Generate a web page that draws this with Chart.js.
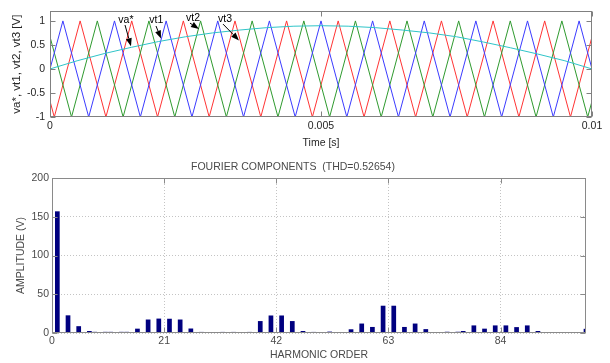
<!DOCTYPE html>
<html>
<head>
<meta charset="utf-8">
<script src="https://cdn.jsdelivr.net/npm/chart.js@4.4.0/dist/chart.umd.min.js"></script>
<style>
  html, body { margin: 0; padding: 0; background: #fff; }
  #wrap { position: relative; width: 610px; height: 363px; overflow: hidden; }
  canvas { position: absolute; left: 0; }
  #carriers { top: 0; }
  #spectrum { top: 150px; }
</style>
</head>
<body>
<div id="wrap">
  <canvas id="carriers" width="610" height="150"></canvas>
  <canvas id="spectrum" width="610" height="213"></canvas>
</div>
<script>
// ---- carrier comparison, one half-cycle of the 50 Hz reference (seconds / volts p.u.) ----
const vt1Time = [0, 0.000238, 0.000714, 0.001190, 0.001667, 0.002143, 0.002619, 0.003095, 0.003571, 0.004048, 0.004524,
                 0.005000, 0.005476, 0.005952, 0.006429, 0.006905, 0.007381, 0.007857, 0.008333, 0.008810, 0.009286, 0.009762, 0.010000];
const vt1Value = [0, 1, -1, 1, -1, 1, -1, 1, -1, 1, -1, 1, -1, 1, -1, 1, -1, 1, -1, 1, -1, 1, 0];

const vt2Time = [0, 0.000397, 0.000873, 0.001349, 0.001825, 0.002302, 0.002778, 0.003254, 0.003730, 0.004206, 0.004683,
                 0.005159, 0.005635, 0.006111, 0.006587, 0.007063, 0.007540, 0.008016, 0.008492, 0.008968, 0.009444, 0.009921, 0.010000];
const vt2Value = [0.67, -1, 1, -1, 1, -1, 1, -1, 1, -1, 1, -1, 1, -1, 1, -1, 1, -1, 1, -1, 1, -1, -0.67];

const vt3Time = [0, 0.000079, 0.000556, 0.001032, 0.001508, 0.001984, 0.002460, 0.002937, 0.003413, 0.003889, 0.004365,
                 0.004841, 0.005317, 0.005794, 0.006270, 0.006746, 0.007222, 0.007698, 0.008175, 0.008651, 0.009127, 0.009603, 0.010000];
const vt3Value = [-0.67, -1, 1, -1, 1, -1, 1, -1, 1, -1, 1, -1, 1, -1, 1, -1, 1, -1, 1, -1, 1, -1, 0.67];

const refTime = [0, 0.0005, 0.001, 0.0015, 0.002, 0.0025, 0.003, 0.0035, 0.004, 0.0045, 0.005,
                 0.0055, 0.006, 0.0065, 0.007, 0.0075, 0.008, 0.0085, 0.009, 0.0095, 0.01];
const refValue = [0, 0.17, 0.32, 0.45, 0.57, 0.67, 0.75, 0.81, 0.86, 0.89, 0.9,
                  0.89, 0.86, 0.81, 0.75, 0.67, 0.56, 0.44, 0.31, 0.17, 0];

const timeTicks = [0, 0.005, 0.01];
const timeTickLabels = ['0', '0.005', '0.01'];
const voltTicks = [-1, -0.5, 0, 0.5, 1];
const voltTickLabels = ['-1', '-0.5', '0', '0.5', '1'];

// ---- Fourier components of the output voltage ----
const harmonicOrder = [1, 3, 5, 7, 8, 10, 11, 13, 14, 16, 18, 20, 22, 24, 26, 28, 32, 34, 37, 39, 41, 43, 45, 47, 49,
                       52, 56, 58, 60, 62, 64, 66, 68, 70, 74, 76, 77, 79, 81, 83, 85, 87, 89, 91, 92, 94, 96, 98, 100];
const amplitude = [157, 22.8, 8.8, 2.6, 1.5, 1.5, 1.5, 1.5, 1.5, 5.6, 17.4, 18.6, 18.4, 17.4, 5.8, 1.4, 1.4, 1.4, 1.4, 15.4, 22.6, 22.6, 15.4, 2.6, 1.4,
                   1.8, 4.8, 12.2, 7.8, 35.2, 35.2, 7.8, 12.2, 5, 1.6, 1.6, 2.6, 9.8, 5.6, 9.8, 9.8, 7.6, 9.8, 2.6, 1.2, 1.2, 1.2, 1.2, 5.4];
const orderTicks = [0, 21, 42, 63, 84];
const orderTickLabels = ['0', '21', '42', '63', '84'];
const ampTicks = [0, 50, 100, 150, 200];
const ampTickLabels = ['0', '50', '100', '150', '200'];

const spectrumTitle = 'FOURIER COMPONENTS  (THD=0.52654)';

// ---- pointer labels on the carrier plot: text spot, arrow tail and arrow tip in data units ----
const pointers = [
  { text: 'va*', at: [0.00140, 1.02], tail: [0.001384, 0.914], tip: [0.001494, 0.474] },
  { text: 'vt1', at: [0.00196, 1.02], tail: [0.001956, 0.894], tip: [0.002048, 0.634] },
  { text: 'vt2', at: [0.00264, 1.05], tail: [0.002583, 0.954], tip: [0.002749, 0.834] },
  { text: 'vt3', at: [0.00323, 1.03], tail: [0.003192, 0.934], tip: [0.003487, 0.594] }
];

Chart.defaults.font.family = '"Liberation Sans", Arial, Helvetica, sans-serif';
Chart.defaults.font.size = 10.5;
Chart.defaults.animation = false;

const toPoints = (xs, ys) => xs.map((x, i) => ({ x: x, y: ys[i] }));

// axes box with inward tick marks on all four sides
const framePlugin = {
  id: 'frame',
  afterDatasetsDraw(chart, args, opts) {
    const { ctx, chartArea: a } = chart;
    const xs = chart.scales.x, ys = chart.scales.y;
    const L = Math.round(a.left) + 0.5, R = Math.round(a.right) - 0.5;
    const T = Math.round(a.top) + 0.5, B = Math.round(a.bottom) - 0.5;
    const len = opts.tickLength;
    ctx.save();
    ctx.strokeStyle = opts.color;
    ctx.lineWidth = 1;
    ctx.beginPath();
    xs.ticks.forEach(t => {
      const p = Math.round(xs.getPixelForValue(t.value)) + 0.5;
      ctx.moveTo(p, B); ctx.lineTo(p, B - len);
      ctx.moveTo(p, T); ctx.lineTo(p, T + len);
    });
    ys.ticks.forEach(t => {
      const p = Math.round(ys.getPixelForValue(t.value)) + 0.5;
      ctx.moveTo(L, p); ctx.lineTo(L + len, p);
      ctx.moveTo(R, p); ctx.lineTo(R - len, p);
    });
    ctx.stroke();
    ctx.strokeRect(L, T, R - L, B - T);
    ctx.restore();
  }
};

// text labels with arrows pointing at the curves
const pointerPlugin = {
  id: 'pointers',
  afterDatasetsDraw(chart, args, opts) {
    const { ctx } = chart;
    const xs = chart.scales.x, ys = chart.scales.y;
    ctx.save();
    ctx.fillStyle = '#000';
    ctx.strokeStyle = '#000';
    ctx.lineWidth = 1;
    ctx.font = '10.5px "Liberation Sans", Arial, sans-serif';
    ctx.textAlign = 'center';
    ctx.textBaseline = 'middle';
    opts.items.forEach(p => {
      ctx.fillText(p.text, xs.getPixelForValue(p.at[0]), ys.getPixelForValue(p.at[1]));
      const x0 = xs.getPixelForValue(p.tail[0]), y0 = ys.getPixelForValue(p.tail[1]);
      const x1 = xs.getPixelForValue(p.tip[0]), y1 = ys.getPixelForValue(p.tip[1]);
      const ang = Math.atan2(y1 - y0, x1 - x0);
      const hl = 8, hw = 3;
      ctx.beginPath();
      ctx.moveTo(x0, y0);
      ctx.lineTo(x1 - hl * Math.cos(ang), y1 - hl * Math.sin(ang));
      ctx.stroke();
      ctx.beginPath();
      ctx.moveTo(x1, y1);
      ctx.lineTo(x1 - hl * Math.cos(ang) + hw * Math.sin(ang), y1 - hl * Math.sin(ang) - hw * Math.cos(ang));
      ctx.lineTo(x1 - hl * Math.cos(ang) - hw * Math.sin(ang), y1 - hl * Math.sin(ang) + hw * Math.cos(ang));
      ctx.closePath();
      ctx.fill();
    });
    ctx.restore();
  }
};

function fixedTicks(values) {
  return scale => { scale.ticks = values.map(v => ({ value: v })); };
}

// ---------- carrier / reference plot ----------
const lineStyle = { borderWidth: 1, pointRadius: 0, tension: 0, fill: false };
new Chart(document.getElementById('carriers'), {
  type: 'line',
  data: {
    datasets: [
      Object.assign({ label: 'va*', data: toPoints(refTime, refValue), borderColor: '#2fc4c8' }, lineStyle),
      Object.assign({ label: 'vt1', data: toPoints(vt1Time, vt1Value), borderColor: '#3b3bff' }, lineStyle),
      Object.assign({ label: 'vt2', data: toPoints(vt2Time, vt2Value), borderColor: '#2f9a2f' }, lineStyle),
      Object.assign({ label: 'vt3', data: toPoints(vt3Time, vt3Value), borderColor: '#ff3434' }, lineStyle)
    ]
  },
  options: {
    responsive: false,
    devicePixelRatio: 1,
    layout: { padding: { left: 0, right: 18, top: 7, bottom: 0 } },
    plugins: {
      legend: { display: false },
      tooltip: { enabled: false },
      frame: { color: '#808080', tickLength: 5 },
      pointers: { items: pointers }
    },
    scales: {
      x: {
        type: 'linear', min: 0, max: 0.01,
        afterBuildTicks: fixedTicks(timeTicks),
        afterFit: s => { s.height = 33; },
        grid: { display: false, drawTicks: false },
        border: { display: false },
        ticks: { padding: 3, color: '#262626', maxRotation: 0, callback: (v, i) => timeTickLabels[i] },
        title: { display: true, text: 'Time [s]', color: '#262626', padding: { top: 0, bottom: 1 } }
      },
      y: {
        type: 'linear', min: -1, max: 1.2,
        afterBuildTicks: fixedTicks(voltTicks),
        afterFit: s => { s.width = 50; },
        grid: { display: false, drawTicks: false },
        border: { display: false },
        ticks: { padding: 5, color: '#262626', callback: (v, i) => voltTickLabels[i] },
        title: { display: true, text: 'va*, vt1, vt2, vt3 [V]', color: '#262626', font: { size: 11.5 }, padding: { top: 10, bottom: 0 } }
      }
    }
  },
  plugins: [framePlugin, pointerPlugin]
});

// ---------- harmonic spectrum ----------
new Chart(document.getElementById('spectrum'), {
  type: 'bar',
  data: {
    datasets: [{
      label: 'amplitude',
      data: toPoints(harmonicOrder, amplitude),
      backgroundColor: '#00007f',
      borderWidth: 0,
      barPercentage: 0.88,
      categoryPercentage: 1,
      clip: 0
    }]
  },
  options: {
    responsive: false,
    devicePixelRatio: 1,
    layout: { padding: { left: 0, right: 24, top: 0, bottom: 0 } },
    plugins: {
      legend: { display: false },
      tooltip: { enabled: false },
      title: { display: true, text: spectrumTitle, color: '#4a4a4a', font: { size: 10.5, weight: 'normal' }, padding: { top: 10.7, bottom: 4.7 } },
      frame: { color: '#8a8a8a', tickLength: 5 }
    },
    scales: {
      x: {
        type: 'linear', min: 0, max: 100, offset: false,
        afterBuildTicks: fixedTicks(orderTicks),
        afterFit: s => { s.height = 30; },
        grid: { display: true, drawTicks: false, offset: false, color: '#c4c4c4' },
        border: { display: false, dash: [1, 2] },
        ticks: { padding: 2, color: '#4a4a4a', maxRotation: 0, callback: (v, i) => orderTickLabels[i] },
        title: { display: true, text: 'HARMONIC ORDER', color: '#4a4a4a', padding: { top: 0, bottom: 1.7 } }
      },
      y: {
        type: 'linear', min: 0, max: 200,
        afterBuildTicks: fixedTicks(ampTicks),
        afterFit: s => { s.width = 52; },
        grid: { display: true, drawTicks: false, color: '#c4c4c4' },
        border: { display: false, dash: [1, 2] },
        ticks: { padding: 3, color: '#4a4a4a', callback: (v, i) => ampTickLabels[i] },
        title: { display: true, text: 'AMPLITUDE (V)', color: '#4a4a4a', padding: { top: 15, bottom: 0 } }
      }
    }
  },
  plugins: [framePlugin]
});
</script>
</body>
</html>
